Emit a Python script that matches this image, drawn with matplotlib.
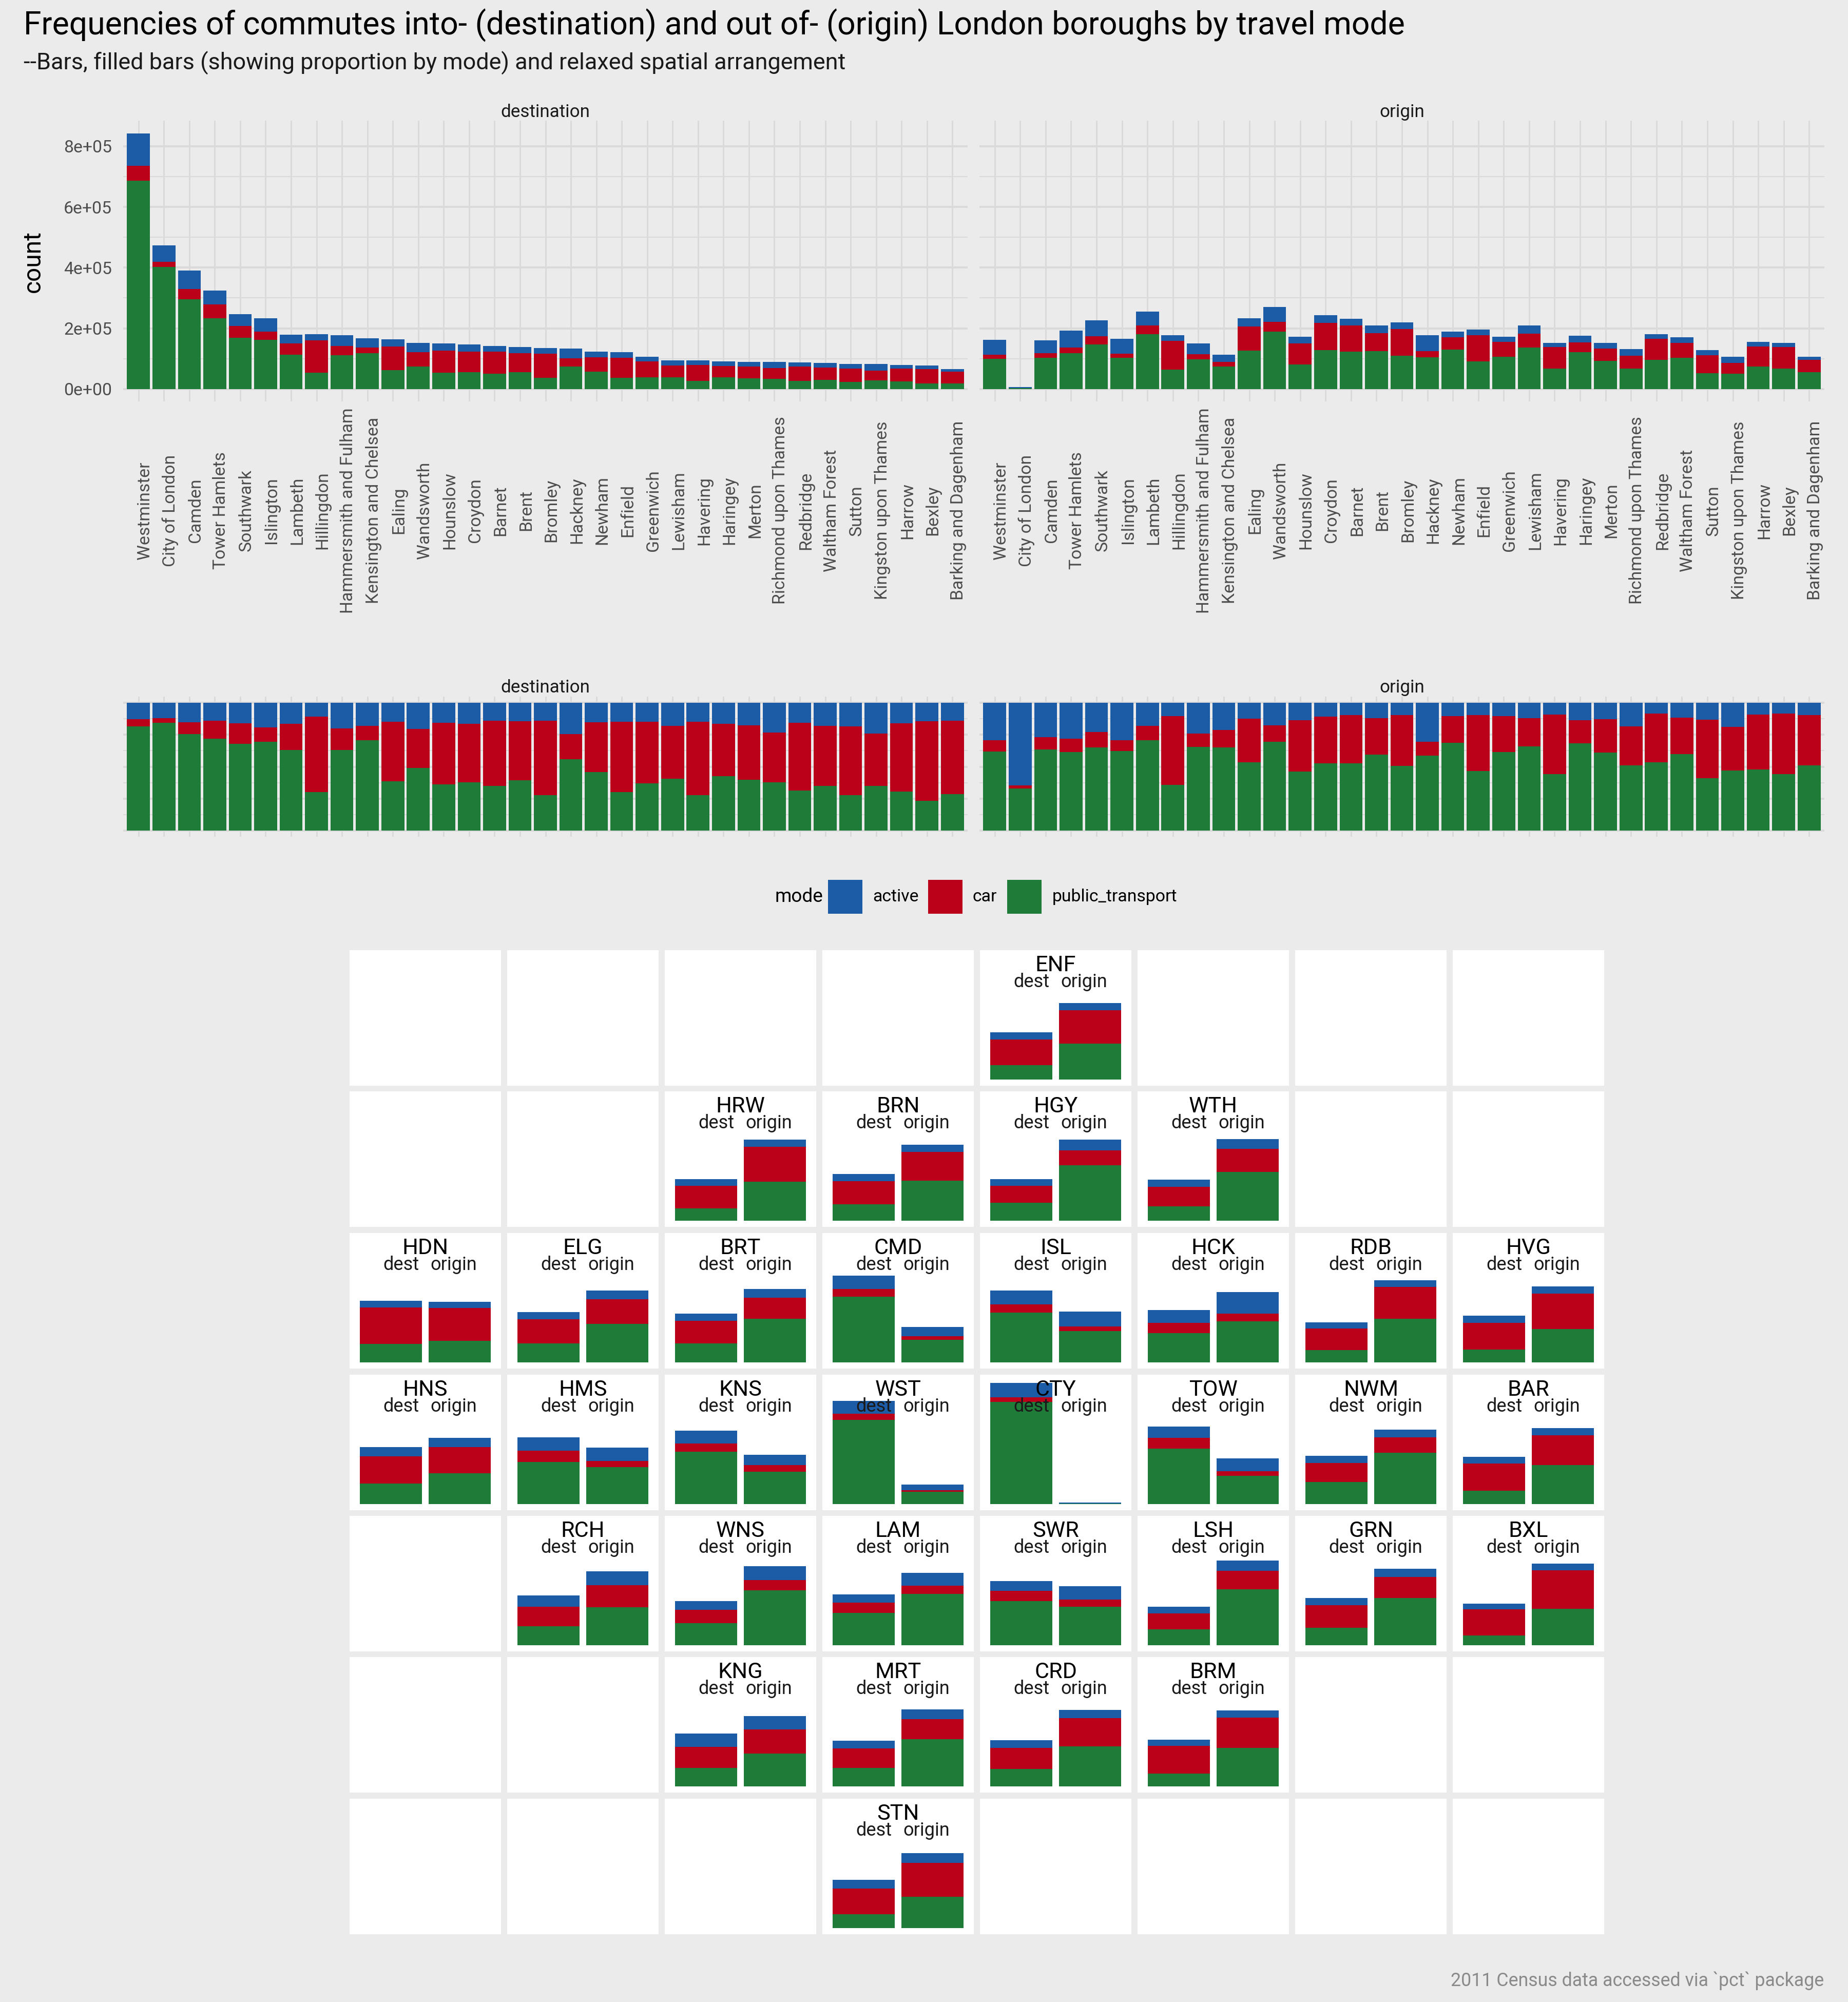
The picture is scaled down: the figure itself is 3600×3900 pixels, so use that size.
import matplotlib
matplotlib.use("Agg")
import matplotlib.pyplot as plt
from matplotlib import font_manager
from matplotlib.patches import Rectangle
from matplotlib.transforms import ScaledTranslation
import numpy as np

W, H = 3600, 3900
DPI = 300
BG = "#EBEBEB"
BLUE = "#1C5CA6"
RED = "#BB0019"
GREEN = "#1F7B38"
GRID = "#DADADA"

# --- data ---
boroughs = ["Westminster", "City of London", "Camden", "Tower Hamlets", "Southwark", "Islington",
            "Lambeth", "Hillingdon", "Hammersmith and Fulham", "Kensington and Chelsea", "Ealing",
            "Wandsworth", "Hounslow", "Croydon", "Barnet", "Brent", "Bromley", "Hackney", "Newham",
            "Enfield", "Greenwich", "Lewisham", "Havering", "Haringey", "Merton",
            "Richmond upon Thames", "Redbridge", "Waltham Forest", "Sutton",
            "Kingston upon Thames", "Harrow", "Bexley", "Barking and Dagenham"]

# counts in thousands
dest_pt = [687, 402, 296, 233, 169, 162, 113, 54, 112, 118, 63, 75, 54, 55, 50, 55, 37, 75, 57, 37,
           39, 39, 27, 39, 35, 34, 27, 30, 23, 29, 26, 19, 19]
dest_car = [49, 17, 34, 46, 39, 27, 37, 107, 30, 19, 77, 47, 73, 68, 73, 63, 79, 27, 48, 66,
            52, 39, 52, 37, 39, 35, 48, 41, 44, 32, 42, 47, 39]
dest_active = [106, 55, 61, 46, 39, 44, 29, 19, 35, 30, 24, 30, 23, 24, 19, 21, 19, 32, 19, 19,
               15, 17, 15, 15, 15, 21, 13, 15, 15, 21, 12, 12, 8]
orig_pt = [99, 3, 103, 118, 147, 103, 181, 64, 98, 75, 127, 189, 81, 128, 124, 125, 110, 105, 130, 91,
           106, 137, 68, 121, 93, 68, 97, 103, 52, 50, 75, 68, 56]
orig_car = [15, 0.5, 15, 19, 27, 14, 29, 95, 17, 15, 79, 33, 69, 90, 86, 59, 88, 20, 40, 86,
            49, 46, 71, 32, 40, 41, 68, 49, 59, 37, 66, 71, 41]
orig_active = [48, 3.5, 43, 55, 52, 49, 46, 19, 36, 23, 28, 48, 23, 26, 22, 26, 21, 52, 19, 19,
               17, 26, 13, 23, 19, 23, 15, 19, 17, 19, 15, 13, 10]

# shares for the filled bars, public transport takes the rest
dest_share_active = [.129, .120, .153, .141, .161, .193, .165, .108, .201, .181, .149, .205, .157, .165,
                     .141, .145, .141, .245, .153, .149, .149, .181, .149, .165, .177, .233, .157, .181,
                     .185, .241, .161, .145, .141]
dest_share_car = [.056, .036, .092, .141, .161, .112, .205, .590, .169, .112, .466, .305, .482, .458,
                  .510, .462, .582, .197, .390, .550, .482, .414, .574, .410, .426, .390, .530, .470,
                  .538, .410, .534, .622, .574]
orig_share_active = [.293, .647, .269, .281, .229, .293, .181, .104, .241, .213, .124, .177, .137, .108,
                     .096, .120, .096, .305, .104, .096, .104, .120, .092, .137, .129, .185, .084, .116,
                     .133, .189, .092, .084, .096]
orig_share_car = [.088, .024, .096, .104, .120, .084, .112, .538, .104, .137, .341, .129, .402, .365,
                  .378, .285, .398, .108, .209, .438, .281, .221, .466, .181, .261, .305, .382, .285,
                  .458, .341, .430, .474, .394]

y_ticks = [0, 200000, 400000, 600000, 800000]
y_tick_labels = ["0e+00", "2e+05", "4e+05", "6e+05", "8e+05"]

# small multiples in the relaxed spatial grid, every panel has its own free y scale
# so the heights are relative to the panel (panel height is 487 of these units)
geo_codes = ["ENF",
             "HRW", "BRN", "HGY", "WTH",
             "HDN", "ELG", "BRT", "CMD", "ISL", "HCK", "RDB", "HVG",
             "HNS", "HMS", "KNS", "WST", "CTY", "TOW", "NWM", "BAR",
             "RCH", "WNS", "LAM", "SWR", "LSH", "GRN", "BXL",
             "KNG", "MRT", "CRD", "BRM",
             "STN"]
geo_row = [0, 1, 1, 1, 1, 2, 2, 2, 2, 2, 2, 2, 2, 3, 3, 3, 3, 3, 3, 3, 3,
           4, 4, 4, 4, 4, 4, 4, 5, 5, 5, 5, 6]
geo_col = [4, 2, 3, 4, 5, 0, 1, 2, 3, 4, 5, 6, 7, 0, 1, 2, 3, 4, 5, 6, 7,
           1, 2, 3, 4, 5, 6, 7, 2, 3, 4, 5, 3]

geo_dest_pt = [52, 45, 59, 64, 51, 67, 69, 69, 236, 179, 105, 45, 46, 74, 152, 188, 303, 367, 200, 80, 48,
               68, 80, 116, 159, 57, 63, 35, 66, 66, 63, 46, 50]
geo_dest_car = [92, 80, 84, 61, 70, 131, 86, 80, 28, 30, 37, 77, 96, 98, 40, 30, 22, 17, 38, 68, 98,
                71, 47, 37, 37, 58, 81, 94, 77, 70, 75, 100, 92]
geo_dest_active = [26, 24, 25, 24, 26, 24, 26, 27, 48, 50, 47, 22, 26, 33, 48, 46, 46, 52, 41, 26, 24,
                   40, 32, 30, 35, 24, 26, 21, 47, 28, 28, 22, 32]
geo_orig_pt = [129, 140, 144, 199, 175, 77, 139, 157, 82, 113, 147, 157, 120, 111, 133, 117, 45, 2, 102, 185, 141,
               137, 198, 184, 139, 201, 170, 131, 118, 169, 144, 138, 113]
geo_orig_car = [120, 125, 103, 53, 84, 119, 88, 76, 12, 16, 29, 115, 127, 94, 22, 24, 5, 0.2, 16, 55, 107,
                79, 36, 30, 26, 67, 76, 139, 87, 72, 101, 109, 121]
geo_orig_active = [26, 26, 26, 39, 34, 22, 32, 31, 34, 54, 77, 24, 26, 33, 48, 36, 20, 3.8, 47, 28, 25,
                   50, 50, 46, 47, 37, 29, 23, 48, 36, 30, 26, 35]

# --- fonts ---
installed = {f.name for f in font_manager.fontManager.ttflist}
print("narrow font there:", "Liberation Sans Narrow" in installed)
family = [f for f in ["Liberation Sans Narrow", "Roboto", "DejaVu Sans"] if f in installed]
plt.rcParams["font.family"] = family


def fig_box(left, top, right, bottom):
    # pixel box of the reference to a figure rectangle
    return [left / W, 1 - bottom / H, (right - left) / W, (bottom - top) / H]


def fig_xy(x, y):
    return x / W, 1 - y / H


def stacked(ax, x, pt, car, active, width=0.9):
    pt, car, active = np.asarray(pt, float), np.asarray(car, float), np.asarray(active, float)
    ax.bar(x, pt, width, color=GREEN, linewidth=0, zorder=3)
    ax.bar(x, car, width, bottom=pt, color=RED, linewidth=0, zorder=3)
    ax.bar(x, active, width, bottom=pt + car, color=BLUE, linewidth=0, zorder=3)


def style_facet(ax, title, title_pad):
    ax.set_facecolor(BG)
    for s in ax.spines.values():
        s.set_visible(False)
    ax.set_xlim(0.4, 33.6)
    ax.set_xticks(np.arange(1, 34))
    ax.tick_params(axis="both", which="both", length=0)
    ax.set_axisbelow(True)
    ax.grid(True, axis="x", which="major", color=GRID, linewidth=0.7)
    ax.grid(True, axis="y", which="major", color=GRID, linewidth=0.95)
    ax.grid(True, axis="y", which="minor", color=GRID, linewidth=0.5)
    ax.set_title(title, fontsize=8.4, color="#1a1a1a", pad=title_pad)


fig = plt.figure(figsize=(W / DPI, H / DPI), dpi=DPI, facecolor=BG)

x = np.arange(1, 34)

# --- counts row ---
ax_d = fig.add_axes(fig_box(240, 235, 1885, 782))
ax_o = fig.add_axes(fig_box(1908, 235, 3554, 782))
stacked(ax_d, x, np.array(dest_pt) * 1000, np.array(dest_car) * 1000, np.array(dest_active) * 1000)
stacked(ax_o, x, np.array(orig_pt) * 1000, np.array(orig_car) * 1000, np.array(orig_active) * 1000)

for ax, title in [(ax_d, "destination"), (ax_o, "origin")]:
    style_facet(ax, title, 1.7)
    ax.set_ylim(-40600, 884000)
    ax.set_yticks(y_ticks)
    ax.set_yticks([100000, 300000, 500000, 700000], minor=True)
    ax.set_xticklabels(boroughs, rotation=90, ha="center", va="center", fontsize=8.1, color="#4d4d4d")
    ax.tick_params(axis="x", pad=51)
    shift = ScaledTranslation(12 / DPI, 0, fig.dpi_scale_trans)
    for lab in ax.get_xticklabels():
        lab.set_transform(lab.get_transform() + shift)

ax_d.set_yticklabels(y_tick_labels, fontsize=8.1, color="#4d4d4d")
ax_d.tick_params(axis="y", pad=5.3)
ax_o.set_yticklabels([])
fig.text(*fig_xy(65, 510), "count", rotation=90, ha="center", va="center", fontsize=11.5, color="black")

# --- proportions row ---
ax_fd = fig.add_axes(fig_box(240, 1357, 1885, 1630))
ax_fo = fig.add_axes(fig_box(1908, 1357, 3554, 1630))
for ax, title, act, car in [(ax_fd, "destination", dest_share_active, dest_share_car),
                            (ax_fo, "origin", orig_share_active, orig_share_car)]:
    act = np.array(act)
    car = np.array(car)
    stacked(ax, x, 1 - act - car, car, act)
    style_facet(ax, title, 1.9)
    ax.set_ylim(-0.05, 1.05)
    ax.set_yticks([0, 0.25, 0.5, 0.75, 1])
    ax.set_yticks([0.125, 0.375, 0.625, 0.875], minor=True)
    ax.set_xticklabels([])
    ax.set_yticklabels([])

# --- legend ---
fig.text(*fig_xy(1509, 1747), "mode", ha="left", va="center", fontsize=8.9, color="black")
legend_items = [("active", BLUE, 1613, 1700), ("car", RED, 1808, 1894), ("public_transport", GREEN, 1962, 2050)]
for lab, col, key_x, text_x in legend_items:
    l, b, w, h = fig_box(key_x, 1714, key_x + 67, 1780)
    fig.add_artist(Rectangle((l, b), w, h, transform=fig.transFigure, facecolor=col, edgecolor="none"))
    fig.text(*fig_xy(text_x, 1747), lab, ha="left", va="center", fontsize=8.1, color="black")

# --- spatial grid ---
col_left = [681, 988, 1295, 1602, 1909, 2216, 2523, 2830]
row_top = [1851, 2126, 2402, 2678, 2953, 3228, 3504]
panel_w, panel_h = 295, 264

for r in range(7):
    for c in range(8):
        ax = fig.add_axes(fig_box(col_left[c], row_top[r], col_left[c] + panel_w, row_top[r] + panel_h))
        ax.set_facecolor("white")
        ax.set_xlim(0.4, 2.6)
        ax.set_ylim(-22, 465)
        ax.set_xticks([])
        ax.set_yticks([])
        for s in ax.spines.values():
            s.set_visible(False)
        if (r, c) not in list(zip(geo_row, geo_col)):
            continue
        i = list(zip(geo_row, geo_col)).index((r, c))
        stacked(ax, [1, 2], [geo_dest_pt[i], geo_orig_pt[i]], [geo_dest_car[i], geo_orig_car[i]],
                [geo_dest_active[i], geo_orig_active[i]])
        ax.text(0.5, 1 - 29.5 / panel_h, geo_codes[i], transform=ax.transAxes, ha="center", va="center",
                fontsize=10.4, color="black", zorder=5)
        ax.text(100 / panel_w, 1 - 62 / panel_h, "dest", transform=ax.transAxes, ha="center", va="center",
                fontsize=8.7, color="#1a1a1a", zorder=5)
        ax.text(203 / panel_w, 1 - 62 / panel_h, "origin", transform=ax.transAxes, ha="center", va="center",
                fontsize=8.7, color="#1a1a1a", zorder=5)

# --- title block ---
fig.text(*fig_xy(46, 49), "Frequencies of commutes into- (destination) and out of- (origin) London boroughs by travel mode",
         ha="left", va="center", fontsize=15, color="black")
fig.text(*fig_xy(46, 123), "--Bars, filled bars (showing proportion by mode) and relaxed spatial arrangement",
         ha="left", va="center", fontsize=10.8, color="#1a1a1a")
fig.text(*fig_xy(3553, 3859), "2011 Census data accessed via `pct` package", ha="right", va="center",
         fontsize=8.6, color="#8a8a8a")

fig.savefig("out.png", dpi=DPI, facecolor=BG)
